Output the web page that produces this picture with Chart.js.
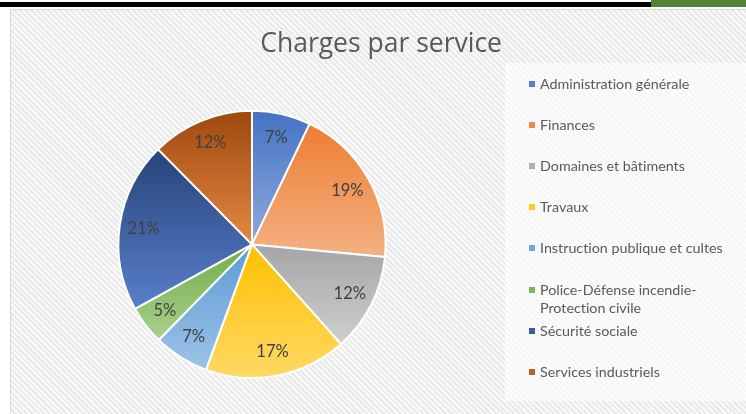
<!DOCTYPE html>
<html>
<head>
<meta charset="utf-8">
<script src="https://cdn.jsdelivr.net/npm/chart.js@4.4.1/dist/chart.umd.min.js"></script>
<style>
  body { margin: 0; width: 746px; height: 414px; overflow: hidden; background: #fff; font-family: Lato, sans-serif; position: relative; }
  #barBlack { position: absolute; left: 0; top: 2px; width: 651px; height: 5px; background: #000; }
  #barGreen { position: absolute; left: 651px; top: 0; width: 95px; height: 7px; background: #548235; }
  #box { position: absolute; left: 10px; top: 9px; width: 760px; height: 420px; border: 1px solid #d9d9d9;
         background: repeating-linear-gradient(45deg, #f9f9f9 0px, #f9f9f9 2px, #e9e9e9 2px, #e9e9e9 4px); }
  #wrap { position: absolute; left: 2px; top: 10px; width: 744px; height: 404px; }
  #legendPanel { position: absolute; left: 505px; top: 63px; width: 241px; height: 338px; background: rgba(255,255,255,0.6); }
  #legend { position: absolute; left: 529px; top: 75px; }
  .item { position: absolute; left: 0; width: 215px; font-size: 14.3px; line-height: 18px; color: #595959; font-variant-ligatures: none; }
  .item span.box { position: absolute; left: 0; top: 6px; width: 6px; height: 6px; }
  .item span.txt { display: block; margin-left: 11px; width: 198px; }
</style>
</head>
<body>
<div id="barBlack"></div>
<div id="barGreen"></div>
<div id="box"></div>
<div id="legendPanel"></div>
<div id="wrap"><canvas id="pie" width="744" height="404"></canvas></div>
<div id="legend"></div>
<script>
const services = ['Administration générale', 'Finances', 'Domaines et bâtiments', 'Travaux',
  'Instruction publique et cultes', 'Police-Défense incendie-Protection civile', 'Sécurité sociale', 'Services industriels'];
const shares = [7.1, 19.4, 11.9, 17.2, 6.7, 4.7, 20.6, 12.4];
const topColors = ['#4472C4', '#ED7D31', '#A5A5A5', '#FFC000', '#5B9BD5', '#70AD47', '#264478', '#9E480E'];
const bottomColors = ['#8FAADC', '#F4B183', '#CFCFCF', '#FFD966', '#9DC3E6', '#A9D18E', '#5A7FCB', '#E58843'];
const legendColors = ['#5A82CC', '#EE8A48', '#B0B0B0', '#FFC822', '#6FA8DA', '#7FB75C', '#3A5C9C', '#C0601F'];

const total = shares.reduce((a, b) => a + b, 0);

// vertical gradient over each slice's own height, like the office fill
function sliceGradient(context) {
  const chart = context.chart;
  const area = chart.chartArea;
  const i = context.dataIndex;
  if (!area || i === undefined) return topColors[i || 0];
  const cx = (area.left + area.right) / 2;
  const cy = (area.top + area.bottom) / 2;
  const r = Math.min(area.right - area.left, area.bottom - area.top) / 2;
  let before = 0;
  for (let k = 0; k < i; k++) before += shares[k];
  const a1 = -Math.PI / 2 + 2 * Math.PI * before / total;
  const a2 = a1 + 2 * Math.PI * shares[i] / total;
  const ys = [cy, cy + r * Math.sin(a1), cy + r * Math.sin(a2)];
  const has = (a) => {
    for (let k = -2; k <= 2; k++) {
      const t = a + 2 * Math.PI * k;
      if (t >= a1 && t <= a2) return true;
    }
    return false;
  };
  if (has(Math.PI / 2)) ys.push(cy + r);
  if (has(-Math.PI / 2)) ys.push(cy - r);
  const y0 = Math.min(...ys), y1 = Math.max(...ys);
  const g = chart.ctx.createLinearGradient(0, y0, 0, y1);
  g.addColorStop(0, topColors[i]);
  g.addColorStop(1, bottomColors[i]);
  return g;
}

const pctLabels = {
  id: 'pctLabels',
  afterDatasetsDraw(chart) {
    const ctx = chart.ctx;
    const meta = chart.getDatasetMeta(0);
    ctx.save();
    ctx.font = '16.5px Lato';
    ctx.fillStyle = '#404040';
    ctx.textAlign = 'center';
    ctx.textBaseline = 'middle';
    meta.data.forEach((arc, i) => {
      const p = arc.getProps(['x', 'y', 'startAngle', 'endAngle', 'outerRadius']);
      const mid = (p.startAngle + p.endAngle) / 2;
      const d = p.outerRadius * 0.82;
      ctx.fillText(Math.round(shares[i] / total * 100) + '%', p.x + Math.cos(mid) * d, p.y + Math.sin(mid) * d);
    });
    ctx.restore();
  }
};

new Chart(document.getElementById('pie'), {
  type: 'pie',
  data: {
    labels: services,
    datasets: [{
      data: shares,
      backgroundColor: sliceGradient,
      borderColor: '#ffffff',
      borderWidth: 2
    }]
  },
  options: {
    responsive: false,
    animation: false,
    layout: { padding: { left: 0, right: 244, top: 0, bottom: 35 } },
    plugins: {
      legend: { display: false },
      tooltip: { enabled: false },
      title: {
        display: true,
        align: 'end',
        text: 'Charges par service',
        color: '#595959',
        font: { family: 'Open Sans', size: 26.5, weight: 'normal' },
        padding: { top: 19, bottom: 49 }
      }
    }
  },
  plugins: [pctLabels]
});

// legend built from the same arrays, one slot per category
const legend = document.getElementById('legend');
services.forEach((name, i) => {
  const item = document.createElement('div');
  item.className = 'item';
  item.style.top = (41.1 * i) + 'px';
  const box = document.createElement('span');
  box.className = 'box';
  box.style.background = legendColors[i];
  const txt = document.createElement('span');
  txt.className = 'txt';
  txt.textContent = name;
  item.appendChild(box);
  item.appendChild(txt);
  legend.appendChild(item);
});
</script>
</body>
</html>
